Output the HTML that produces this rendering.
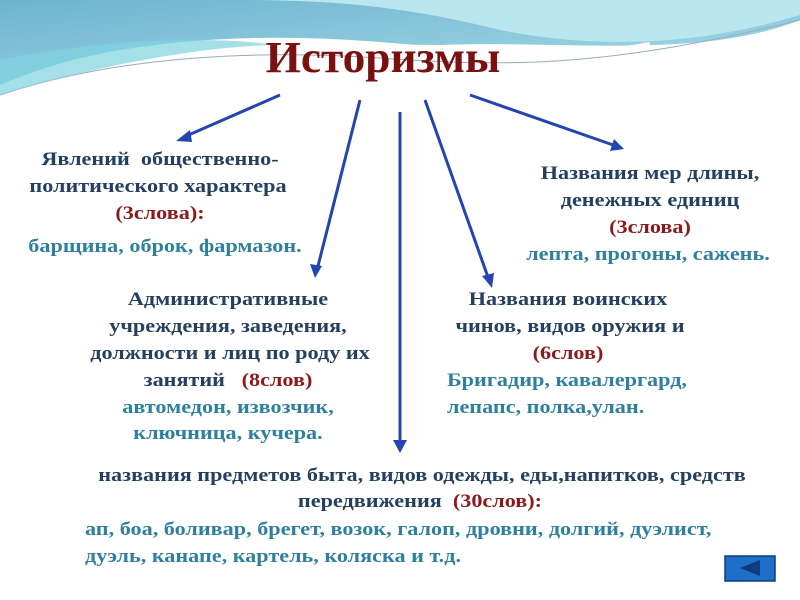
<!DOCTYPE html>
<html><head><meta charset="utf-8"><style>
body{margin:0;width:800px;height:600px;position:relative;overflow:hidden;background:#fff;font-family:"Liberation Serif",serif;font-weight:bold}
.t{position:absolute;white-space:nowrap;font-size:18.5px;line-height:22px;transform:translateY(-50%) scaleX(1.2);transform-origin:left center}
.c{transform:translate(-50%,-50%) scaleX(1.2);transform-origin:center center}
.h{color:#243f60}.r{color:#8b1a1a}.e{color:#2f7f9f}
</style></head><body>
<svg width="800" height="600" style="position:absolute;left:0;top:0">
<defs>
<linearGradient id="g2" x1="0" y1="0" x2="1" y2="1"><stop offset="0" stop-color="#6fb4d0"/><stop offset="1" stop-color="#a8dde8"/></linearGradient>
</defs>
<path d="M0 0 H800 V20 C700 60 560 40 440 45 C300 45 150 20 0 85 Z" fill="url(#g2)"/>
<path d="M240 0 C350 0 420 10 500 30 C600 50 700 45 800 15 V0 Z" fill="#b9e6ef"/>
<path d="M0 90 C110 40 250 35 380 45 C500 55 560 62 650 45" stroke="#fff" stroke-width="6" fill="none"/>
<path d="M0 95 C120 55 260 50 380 58 C500 66 600 70 800 20" stroke="#9ab" stroke-width="1" fill="none"/>
<path d="M0 60 C100 40 200 35 280 45 C200 45 80 70 0 95 Z" fill="#7fd3e0" opacity="0.7"/>
<g stroke="#2444b0" stroke-width="3" fill="none">
<line x1="280" y1="95" x2="184" y2="137"/><line x1="360" y1="100" x2="317" y2="270"/>
<line x1="400" y1="112" x2="400" y2="445"/><line x1="425" y1="100" x2="489" y2="280"/>
<line x1="470" y1="95" x2="616" y2="146"/>
</g>
<g fill="#2444b0">
<polygon points="176,141 190,130 192,142"/><polygon points="315,278 310,264 322,266"/>
<polygon points="400,453 393,440 407,440"/><polygon points="492,288 482,276 494,273"/>
<polygon points="624,149 610,151 614,139"/>
</g>
<rect x="725" y="556" width="50" height="25" fill="#1e6fc8" stroke="#0d3d80" stroke-width="1.5"/>
<polygon points="740,568 760,560 760,576" fill="#0d3d80"/>
</svg>
<div class="t c" style="left:383px;top:58px;font-size:44px;line-height:50px;color:#7a1010;transform:translate(-50%,-50%) scaleX(1.03)">Историзмы</div>
<div class="t c h" style="left:160px;top:160px">Явлений &nbsp;общественно-</div>
<div class="t c h" style="left:158px;top:187px">политического характера</div>
<div class="t c r" style="left:160px;top:214px">(3слова):</div>
<div class="t c e" style="left:165px;top:247px">барщина, оброк, фармазон.</div>
<div class="t c h" style="left:650px;top:174px">Названия мер длины,</div>
<div class="t c h" style="left:650px;top:201px">денежных единиц</div>
<div class="t c r" style="left:650px;top:228px">(3слова)</div>
<div class="t c e" style="left:648px;top:255px">лепта, прогоны, сажень.</div>
<div class="t c h" style="left:228px;top:300px">Административные</div>
<div class="t c h" style="left:228px;top:327px">учреждения, заведения,</div>
<div class="t c h" style="left:230px;top:354px">должности и лиц по роду их</div>
<div class="t c h" style="left:228px;top:381px">занятий &nbsp;&nbsp;<span class="r">(8слов)</span></div>
<div class="t c e" style="left:228px;top:408px">автомедон, извозчик,</div>
<div class="t c e" style="left:228px;top:434px">ключница, кучера.</div>
<div class="t c h" style="left:568px;top:300px">Названия воинских</div>
<div class="t c h" style="left:570px;top:327px">чинов, видов оружия и</div>
<div class="t c r" style="left:568px;top:354px">(6слов)</div>
<div class="t e" style="left:447px;top:381px">Бригадир, кавалергард,</div>
<div class="t e" style="left:447px;top:408px">лепапс, полка,улан.</div>
<div class="t c h" style="left:422px;top:476px">названия предметов быта, видов одежды, еды,напитков, средств</div>
<div class="t c h" style="left:420px;top:502px">передвижения &nbsp;<span class="r">(30слов):</span></div>
<div class="t e" style="left:85px;top:530px">ап, боа, боливар, брегет, возок, галоп, дровни, долгий, дуэлист,</div>
<div class="t e" style="left:85px;top:557px">дуэль, канапе, картель, коляска и т.д.</div>
</body></html>
